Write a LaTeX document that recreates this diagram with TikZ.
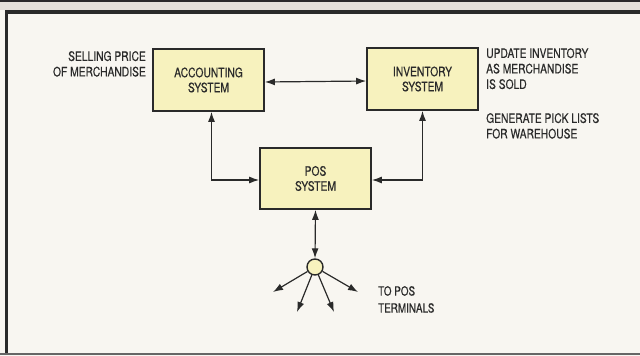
\documentclass[tikz,border=0pt]{standalone}
\usepackage{fontspec}
\newfontfamily\condfont{TeX Gyre Heros}[FakeStretch=0.79,FakeBold=0.4]
\usetikzlibrary{arrows.meta}
\definecolor{paper}{HTML}{F8F6F1}
\definecolor{band}{HTML}{E4E1DA}
\definecolor{boxfill}{HTML}{F7F2BE}
\definecolor{ink}{HTML}{2A2A2A}
\tikzset{
  sysbox/.style={draw=ink, line width=1.7pt, fill=boxfill, minimum width=111pt, minimum height=62pt, align=center, font=\condfont\fontsize{13}{15}\selectfont, inner sep=0pt, text=ink},
  note/.style={font=\condfont\fontsize{13}{15.5}\selectfont, inner sep=0pt, text=ink},
  conn/.style={draw=ink, line width=1.2pt, {Latex[length=10pt,width=7pt]}-{Latex[length=10pt,width=7pt]}},
  outconn/.style={draw=ink, line width=1.2pt, -{Latex[length=10pt,width=7pt]}}
}
\begin{document}
\begin{tikzpicture}[x=1pt,y=-1pt]
\useasboundingbox (0,0) rectangle (640,356);
\fill[paper] (0,0) rectangle (640,356);
\fill[band] (0,0) rectangle (640,10);
\draw[ink, line width=2pt] (0,1) -- (640,1);
\draw[ink, line width=3.5pt] (5,12) -- (640,12);
\draw[ink, line width=3pt] (6.5,10.25) -- (6.5,354);
\draw[black!60, line width=2pt] (0,353.5) -- (640,353.5);

\node[sysbox] (acc) at (208.5,80) {ACCOUNTING\\SYSTEM};
\node[sysbox] (inv) at (422.5,79) {INVENTORY\\SYSTEM};
\node[sysbox, minimum height=61pt] (pos) at (315.5,178.5) {POS\\SYSTEM};
\node[circle, draw=ink, line width=1.4pt, fill=boxfill, minimum size=16pt, inner sep=0pt] (hub) at (315,267) {};

\coordinate (t1) at (273,292);
\coordinate (t2) at (297,312);
\coordinate (t3) at (334,312);
\coordinate (t4) at (358,292);

\draw[conn] ([yshift=-2pt]acc.east) -- ([yshift=-2pt]inv.west);
\draw[conn] ([xshift=3pt]acc.south) |- ([yshift=-1.5pt]pos.west);
\draw[conn] (inv.south) |- ([yshift=-1.5pt]pos.east);
\draw[conn] (pos.south) -- (hub.north);
\draw[outconn] (hub) -- (t1);
\draw[outconn] (hub) -- (t2);
\draw[outconn] (hub) -- (t3);
\draw[outconn] (hub) -- (t4);

\node[note, anchor=north east, align=right] (sell) at (146,51) {SELLING PRICE\\OF MERCHANDISE};
\node[note, anchor=north west, align=left] (upd) at (486,48) {UPDATE INVENTORY\\AS MERCHANDISE\\IS SOLD};
\node[note, anchor=north west, align=left] (gen) at (486,113) {GENERATE PICK LISTS\\FOR WAREHOUSE};
\node[note, anchor=north west, align=left, font=\condfont\fontsize{12.5}{17}\selectfont] (term) at (378,286) {TO POS\\TERMINALS};
\end{tikzpicture}
\end{document}
